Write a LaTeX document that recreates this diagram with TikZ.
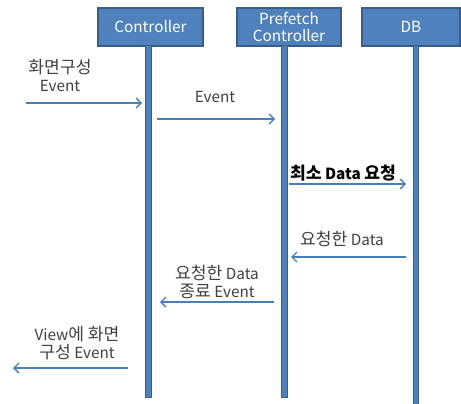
\documentclass[tikz,border=0pt]{standalone}
\usepackage{fontspec}
\setmainfont{Noto Sans CJK KR}
\newfontfamily\krfont{Noto Sans CJK KR}[Scale=1.12]
\newcommand{\kr}[1]{{\krfont #1}}
\usetikzlibrary{arrows.meta}
\definecolor{boxfill}{HTML}{4F81BD}
\definecolor{boxline}{HTML}{385D8A}
\definecolor{arrowc}{HTML}{4A7EBB}
\definecolor{txt}{HTML}{404040}
\tikzset{
  actor/.style={draw=boxline, line width=1.5pt, fill=boxfill, text=white, minimum height=38pt,
    font=\fontsize{15.3}{17}\selectfont, align=center, inner sep=0pt},
  life/.style={draw=boxline, line width=1pt, fill=boxfill},
  msg/.style={arrowc, line width=1.3pt, -{Straight Barb[length=5pt,width=10pt,line width=1.3pt]}},
  lbl/.style={text=txt, font=\fontsize{15.3}{18}\selectfont, align=center, inner sep=0pt}
}
\begin{document}
\begin{tikzpicture}[x=1pt,y=-1pt]
\useasboundingbox (0,0) rectangle (461,404);
% actors
\node[actor, minimum width=105pt] (ctrl) at (150.5,27) {Controller};
\node[actor, minimum width=104pt] (pre) at (289,27) {Prefetch\\Controller};
\node[actor, minimum width=98pt] (db) at (411,27) {DB};
% lifelines
\fill[life] (145.5,46) rectangle (151,397);
\fill[life] (281.5,46) rectangle (287,397);
\fill[life] (413,46) rectangle (418.5,406);
% lifeline anchor coordinates
\coordinate (c1) at (142,103);
\coordinate (s1) at (26,103);
\coordinate (c2) at (157,119);
\coordinate (p2) at (275,119);
\coordinate (p3) at (289,184);
\coordinate (d3) at (406,184);
\coordinate (d4) at (406,257);
\coordinate (p4) at (291,257);
\coordinate (p5) at (274,302);
\coordinate (c5) at (160,302);
\coordinate (c6) at (128,368);
\coordinate (e6) at (13,368);
% messages
\draw[msg] (s1) -- (c1);
\draw[msg] (c2) -- (p2);
\draw[msg] (p3) -- (d3);
\draw[msg] (d4) -- (p4);
\draw[msg] (p5) -- (c5);
\draw[msg] (c6) -- (e6);
% labels
\node[lbl] (l1) at (60,76) {\kr{화면구성}\\Event};
\node[lbl] (l2) at (215,97) {Event};
\node[lbl, text=black, font=\fontsize{15.3}{18}\selectfont\bfseries] (l3) at (343,173) {\kr{\bfseries 최소} Data \kr{\bfseries 요청}};
\node[lbl] (l4) at (342,239) {\kr{요청한} Data};
\node[lbl] (l5) at (217,282) {\kr{요청한} Data\\\kr{종료} Event};
\node[lbl] (l6) at (77,343) {View\kr{에 화면}\\\kr{구성} Event};
\end{tikzpicture}
\end{document}
